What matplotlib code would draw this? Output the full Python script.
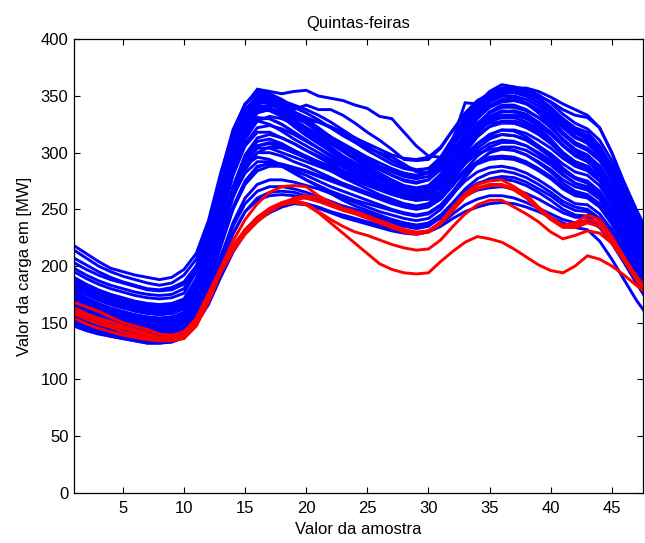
import numpy as np
import matplotlib
matplotlib.use("Agg")
import matplotlib.pyplot as plt

# amostras (meia hora) 1..48
amostra = list(range(1, 49))

# curvas de carga das quintas-feiras normais (azul)
azul = [
    [150, 146, 143, 140, 138, 136, 134, 133, 134, 138, 150, 168, 192, 215, 232, 243, 250, 254, 256, 255, 252, 248, 245, 242,
     239, 236, 233, 231, 229, 231, 237, 246, 254, 259, 262, 262, 260, 256, 251, 246, 241, 238, 240, 234, 220, 203, 185, 168],
    [156, 151, 147, 144, 141, 139, 137, 136, 137, 141, 155, 178, 208, 235, 255, 266, 270, 270, 268, 265, 261, 257, 253, 250,
     247, 244, 241, 238, 236, 238, 245, 256, 268, 277, 282, 284, 282, 278, 272, 265, 257, 252, 250, 242, 228, 210, 190, 172],
    [160, 155, 151, 148, 145, 143, 141, 140, 141, 145, 160, 186, 220, 252, 275, 288, 290, 288, 284, 280, 275, 270, 266, 262,
     258, 254, 250, 247, 245, 247, 254, 266, 280, 292, 300, 303, 302, 298, 291, 283, 273, 266, 263, 255, 240, 220, 200, 180],
    [165, 160, 156, 152, 149, 147, 145, 144, 145, 149, 165, 194, 232, 268, 295, 310, 312, 308, 302, 296, 290, 284, 278, 273,
     268, 263, 259, 255, 253, 255, 263, 277, 293, 307, 316, 320, 319, 314, 306, 297, 286, 278, 274, 265, 249, 228, 206, 186],
    [170, 165, 160, 156, 153, 151, 149, 148, 149, 153, 170, 202, 244, 284, 315, 330, 330, 325, 318, 311, 304, 297, 290, 284,
     278, 272, 267, 263, 261, 263, 272, 288, 306, 322, 332, 337, 336, 331, 322, 312, 300, 291, 286, 276, 258, 236, 213, 192],
    [178, 172, 167, 163, 160, 157, 155, 154, 155, 159, 177, 212, 258, 302, 334, 348, 347, 341, 333, 326, 318, 310, 302, 295,
     288, 282, 276, 271, 269, 271, 281, 298, 318, 334, 345, 350, 349, 344, 335, 324, 311, 301, 295, 284, 266, 243, 220, 198],
    [195, 189, 184, 180, 177, 174, 172, 171, 172, 176, 195, 232, 280, 320, 343, 354, 352, 347, 340, 335, 329, 322, 315, 309,
     302, 296, 290, 286, 284, 286, 296, 313, 331, 344, 352, 357, 357, 354, 348, 340, 328, 318, 312, 300, 283, 262, 240, 218],
    [175, 170, 165, 161, 158, 156, 154, 153, 154, 158, 172, 198, 232, 262, 282, 292, 292, 288, 282, 276, 270, 264, 258, 253,
     249, 245, 241, 238, 236, 237, 242, 252, 263, 272, 277, 279, 278, 274, 268, 262, 254, 249, 248, 240, 226, 207, 188, 170],
    [152, 147, 144, 141, 139, 137, 135, 134, 135, 139, 156, 186, 226, 264, 292, 306, 308, 305, 300, 295, 290, 285, 280, 275,
     271, 267, 263, 260, 258, 261, 271, 288, 308, 325, 336, 342, 342, 338, 331, 322, 311, 302, 297, 288, 272, 250, 228, 206],
    [168, 163, 158, 154, 151, 149, 147, 146, 147, 151, 168, 200, 242, 282, 312, 328, 332, 330, 325, 318, 310, 302, 294, 287,
     280, 273, 267, 262, 259, 260, 266, 278, 292, 304, 312, 316, 315, 311, 304, 296, 286, 278, 275, 266, 250, 230, 209, 189],
    [162, 157, 153, 150, 147, 145, 143, 142, 143, 147, 162, 190, 226, 260, 285, 300, 305, 304, 300, 296, 292, 288, 284, 280,
     276, 272, 268, 265, 263, 264, 270, 282, 296, 308, 316, 320, 320, 317, 311, 304, 295, 288, 284, 275, 258, 237, 215, 194],
    [185, 179, 174, 170, 167, 164, 162, 161, 162, 166, 184, 218, 264, 305, 332, 342, 340, 334, 326, 318, 310, 302, 295, 288,
     282, 276, 271, 267, 266, 269, 280, 297, 315, 330, 340, 345, 346, 343, 337, 329, 318, 309, 304, 294, 277, 255, 232, 210],
    [190, 184, 179, 175, 172, 169, 167, 166, 167, 171, 189, 225, 272, 312, 338, 350, 348, 343, 336, 329, 322, 314, 306, 299,
     292, 286, 280, 275, 273, 276, 287, 305, 324, 339, 348, 353, 353, 350, 344, 336, 324, 314, 308, 297, 279, 257, 234, 212],
    [147, 143, 140, 138, 136, 134, 132, 132, 133, 137, 149, 166, 190, 212, 229, 240, 247, 252, 255, 254, 251, 247, 243, 240,
     237, 234, 231, 229, 228, 230, 235, 242, 248, 252, 255, 256, 255, 252, 248, 243, 238, 234, 232, 222, 206, 188, 170, 155],
    [158, 153, 149, 146, 143, 141, 139, 138, 139, 143, 158, 184, 218, 250, 272, 284, 288, 288, 286, 283, 279, 275, 271, 267,
     263, 259, 255, 252, 250, 252, 259, 271, 285, 297, 305, 309, 309, 306, 300, 293, 284, 277, 273, 264, 248, 227, 206, 186],
    [173, 167, 162, 158, 155, 153, 151, 150, 151, 155, 172, 204, 246, 287, 318, 335, 338, 335, 329, 322, 315, 308, 301, 294,
     287, 280, 274, 269, 266, 267, 274, 288, 304, 318, 327, 331, 331, 327, 320, 311, 300, 292, 288, 279, 262, 240, 218, 197],
    [180, 175, 170, 166, 163, 160, 158, 157, 158, 162, 180, 214, 258, 298, 325, 338, 337, 332, 325, 318, 311, 304, 297, 291,
     285, 279, 273, 269, 267, 269, 278, 293, 309, 323, 332, 336, 336, 333, 326, 318, 307, 298, 293, 283, 266, 244, 222, 201],
    [150, 146, 142, 139, 137, 135, 133, 133, 134, 138, 152, 176, 208, 238, 260, 272, 276, 276, 274, 271, 268, 264, 260, 256,
     252, 248, 245, 242, 240, 242, 250, 263, 278, 291, 300, 305, 305, 302, 296, 289, 280, 273, 270, 262, 246, 226, 205, 185],
    [183, 178, 173, 169, 166, 163, 161, 160, 161, 165, 183, 220, 268, 310, 337, 347, 344, 337, 329, 321, 313, 305, 297, 290,
     283, 277, 272, 268, 266, 268, 278, 294, 312, 326, 335, 340, 340, 337, 331, 323, 312, 303, 298, 288, 270, 248, 226, 204],
    [164, 159, 155, 151, 148, 146, 144, 143, 144, 148, 164, 192, 230, 266, 292, 306, 309, 307, 302, 297, 292, 287, 282, 278,
     274, 270, 266, 262, 260, 262, 270, 284, 300, 314, 323, 328, 328, 325, 318, 310, 300, 292, 288, 279, 262, 240, 218, 197],
    [155, 150, 146, 143, 140, 138, 136, 135, 136, 140, 156, 182, 217, 250, 274, 287, 291, 290, 287, 284, 280, 276, 272, 268,
     264, 260, 257, 254, 252, 255, 265, 282, 301, 318, 330, 336, 337, 334, 327, 318, 306, 297, 292, 282, 265, 243, 220, 199],
    [177, 171, 166, 162, 159, 157, 155, 154, 155, 159, 176, 208, 250, 290, 318, 331, 330, 325, 318, 311, 304, 297, 290, 284,
     278, 272, 266, 261, 258, 259, 265, 277, 290, 301, 308, 311, 310, 306, 299, 291, 281, 273, 269, 260, 244, 223, 202, 182],
    [170, 165, 161, 157, 154, 152, 150, 149, 150, 154, 171, 205, 250, 292, 322, 337, 339, 336, 331, 326, 320, 314, 308, 302,
     296, 291, 286, 282, 280, 283, 294, 311, 329, 343, 352, 357, 358, 356, 351, 344, 334, 326, 321, 311, 293, 270, 247, 225],
    [172, 167, 162, 158, 155, 153, 151, 150, 151, 155, 172, 206, 252, 294, 324, 340, 342, 339, 333, 327, 320, 313, 306, 300,
     294, 288, 283, 279, 277, 279, 289, 306, 324, 338, 347, 352, 354, 354, 350, 345, 338, 333, 331, 322, 300, 274, 250, 228],
    [218, 211, 204, 198, 195, 192, 190, 188, 190, 197, 211, 240, 282, 318, 342, 356, 354, 352, 354, 355, 350, 348, 346, 342,
     339, 332, 330, 318, 306, 297, 296, 312, 344, 343, 354, 360, 358, 354, 348, 340, 330, 322, 318, 306, 288, 266, 244, 224],
    [214, 207, 200, 195, 191, 188, 185, 183, 185, 192, 206, 236, 276, 312, 336, 350, 349, 344, 338, 342, 338, 338, 333, 326,
     318, 311, 303, 294, 293, 294, 304, 320, 334, 342, 348, 352, 353, 350, 344, 336, 325, 317, 313, 302, 285, 263, 241, 220],
    [207, 201, 195, 190, 186, 183, 180, 179, 181, 186, 200, 230, 270, 306, 330, 344, 344, 340, 334, 328, 327, 322, 316, 310,
     304, 300, 296, 290, 283, 282, 290, 305, 322, 336, 345, 350, 350, 347, 341, 333, 322, 313, 309, 298, 281, 259, 237, 216],
    [203, 197, 192, 188, 185, 182, 179, 178, 179, 184, 199, 226, 264, 300, 325, 340, 338, 333, 326, 320, 314, 308, 302, 296,
     290, 285, 280, 276, 274, 276, 285, 300, 317, 331, 340, 345, 346, 344, 338, 331, 322, 314, 310, 300, 283, 261, 239, 218],
    [180, 175, 170, 166, 163, 161, 159, 158, 159, 163, 180, 213, 256, 296, 324, 338, 338, 334, 328, 322, 316, 310, 304, 298,
     293, 288, 284, 281, 279, 282, 292, 309, 327, 341, 350, 355, 357, 357, 354, 349, 343, 338, 333, 322, 300, 272, 246, 228],
    [153, 149, 145, 142, 140, 138, 136, 135, 136, 140, 153, 174, 202, 229, 248, 258, 262, 263, 262, 260, 257, 254, 251, 248,
     245, 242, 239, 236, 234, 236, 243, 253, 262, 267, 269, 270, 268, 264, 259, 253, 247, 243, 243, 236, 222, 204, 186, 168],
    [167, 162, 157, 153, 150, 148, 146, 145, 146, 150, 166, 194, 232, 266, 290, 300, 300, 297, 292, 288, 283, 278, 273, 269,
     265, 261, 257, 254, 252, 254, 261, 272, 283, 290, 294, 295, 294, 290, 284, 277, 268, 262, 260, 252, 237, 217, 197, 178],
    [174, 168, 163, 159, 156, 154, 152, 151, 152, 156, 172, 202, 242, 280, 306, 318, 318, 313, 308, 302, 297, 292, 287, 282,
     277, 272, 268, 264, 262, 263, 269, 280, 291, 299, 303, 304, 302, 298, 292, 285, 276, 270, 267, 259, 243, 222, 201, 181],
    [186, 180, 175, 171, 168, 165, 163, 162, 163, 167, 184, 216, 258, 296, 320, 328, 325, 319, 312, 306, 300, 294, 288, 283,
     278, 273, 269, 266, 264, 266, 273, 285, 298, 308, 314, 316, 315, 312, 306, 299, 290, 283, 280, 271, 254, 232, 210, 190],
    [188, 182, 177, 173, 170, 167, 165, 164, 165, 169, 187, 224, 274, 318, 343, 352, 350, 346, 342, 338, 333, 327, 320, 313,
     306, 299, 293, 288, 285, 286, 292, 303, 314, 322, 326, 327, 326, 322, 316, 308, 298, 290, 286, 277, 260, 238, 216, 195],
    [157, 152, 148, 145, 142, 140, 138, 137, 138, 142, 158, 188, 228, 266, 292, 304, 304, 300, 296, 292, 288, 284, 280, 276,
     273, 270, 267, 265, 264, 267, 278, 296, 316, 332, 342, 347, 347, 343, 336, 327, 316, 307, 302, 293, 276, 254, 231, 209],
    [176, 170, 165, 161, 158, 156, 154, 153, 154, 158, 173, 200, 236, 268, 289, 296, 294, 289, 282, 276, 271, 266, 262, 258,
     255, 252, 249, 246, 244, 246, 253, 264, 275, 283, 287, 288, 286, 282, 276, 269, 261, 255, 254, 246, 232, 213, 194, 176],
    [198, 192, 187, 183, 180, 177, 175, 174, 175, 180, 196, 228, 272, 310, 334, 346, 345, 341, 336, 331, 327, 323, 318, 313,
     308, 303, 298, 295, 294, 296, 305, 320, 335, 346, 352, 355, 355, 352, 347, 339, 329, 320, 315, 305, 287, 265, 243, 222],
    [166, 161, 157, 153, 150, 148, 146, 145, 146, 150, 167, 198, 240, 280, 308, 322, 324, 321, 316, 310, 304, 298, 292, 287,
     282, 277, 273, 270, 268, 270, 278, 292, 308, 321, 329, 333, 333, 330, 324, 316, 306, 298, 294, 285, 268, 246, 224, 203],
    [161, 156, 152, 149, 146, 144, 142, 141, 142, 146, 162, 192, 232, 270, 298, 313, 316, 313, 308, 302, 296, 290, 284, 278,
     273, 268, 264, 260, 258, 259, 265, 275, 285, 292, 296, 297, 296, 292, 286, 279, 270, 264, 262, 254, 239, 219, 199, 180],
    [182, 176, 171, 167, 164, 162, 160, 159, 160, 164, 181, 214, 258, 300, 328, 340, 338, 332, 323, 315, 308, 301, 294, 288,
     282, 276, 271, 267, 265, 267, 275, 289, 304, 316, 323, 326, 326, 323, 317, 309, 299, 291, 287, 278, 261, 239, 217, 196],
    [149, 145, 141, 138, 136, 134, 132, 132, 133, 137, 150, 171, 200, 228, 248, 260, 265, 266, 265, 262, 259, 255, 251, 247,
     244, 241, 238, 235, 233, 235, 243, 255, 266, 273, 276, 277, 275, 271, 265, 258, 250, 245, 244, 236, 222, 204, 186, 168],
]

# quintas-feiras atipicas (vermelho)
vermelho = [
    [168, 164, 160, 155, 150, 147, 144, 140, 139, 142, 154, 176, 198, 222, 241, 255, 265, 270, 271, 270, 262, 256, 251, 248,
     244, 240, 236, 232, 230, 231, 239, 252, 264, 272, 275, 276, 270, 263, 252, 243, 236, 238, 245, 241, 226, 208, 191, 176],
    [163, 158, 154, 151, 147, 144, 141, 137, 136, 138, 150, 172, 196, 215, 229, 240, 249, 255, 260, 262, 260, 256, 251, 248,
     244, 240, 236, 232, 229, 231, 238, 250, 262, 269, 272, 272, 268, 261, 251, 242, 235, 236, 241, 238, 224, 206, 189, 174],
    [158, 153, 149, 146, 142, 139, 137, 136, 135, 137, 148, 170, 196, 215, 229, 240, 249, 255, 258, 255, 248, 241, 235, 230,
     227, 223, 219, 216, 214, 215, 223, 235, 246, 254, 258, 258, 252, 246, 239, 230, 224, 227, 231, 229, 220, 205, 191, 178],
    [154, 149, 145, 142, 139, 137, 135, 134, 134, 136, 147, 168, 194, 213, 228, 239, 248, 254, 256, 254, 247, 238, 229, 220,
     211, 202, 197, 194, 193, 194, 204, 213, 221, 226, 224, 221, 215, 208, 201, 196, 194, 200, 209, 206, 200, 192, 183, 175],
    [160, 156, 152, 148, 145, 142, 139, 137, 137, 139, 151, 173, 198, 218, 232, 243, 251, 256, 259, 260, 257, 253, 249, 246,
     242, 238, 234, 230, 228, 230, 237, 249, 261, 268, 271, 271, 267, 260, 250, 241, 234, 234, 238, 235, 222, 205, 188, 172],
]

titulo = "Quintas-feiras"
rotulo_x = "Valor da amostra"
rotulo_y = "Valor da carga em [MW]"
xticks = [5, 10, 15, 20, 25, 30, 35, 40, 45]
yticks = [0, 50, 100, 150, 200, 250, 300, 350, 400]

plt.rcParams['font.family'] = ['Liberation Sans', 'DejaVu Sans']
plt.rcParams['font.size'] = 12

fig = plt.figure(figsize=(6.45, 5.43), dpi=100)
ax = fig.add_axes([0.1147, 0.0926, 0.8822, 0.835])

for dia in azul:
    ax.plot(amostra, dia, color=(0, 0, 1), lw=2.1, solid_joinstyle='miter')
for dia in vermelho:
    ax.plot(amostra, dia, color=(1, 0, 0), lw=2.1, solid_joinstyle='miter')

ax.set_xlim(1, 47.55)
ax.set_ylim(0, 400)
ax.set_xticks(xticks)
ax.set_yticks(yticks)
ax.tick_params(direction='in', length=4, width=0.8, top=True, right=True, labelsize=12)
ax.tick_params(axis='x', pad=6)
ax.tick_params(axis='y', pad=4)
for s in ax.spines.values():
    s.set_linewidth(0.9)

ax.set_title(titulo, fontsize=12, pad=8)
ax.set_xlabel(rotulo_x, fontsize=12, labelpad=4)
ax.set_ylabel(rotulo_y, fontsize=12, labelpad=6)

fig.savefig("out.png", dpi=100)
